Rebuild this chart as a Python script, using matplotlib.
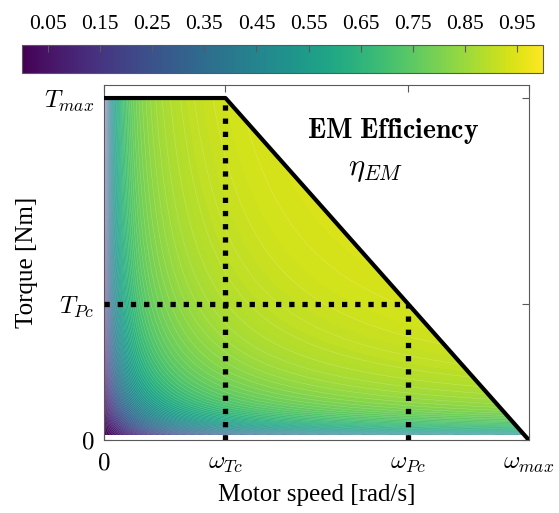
import numpy as np
import matplotlib
matplotlib.use("Agg")
import matplotlib.pyplot as plt

plt.rcParams['font.family'] = ['Liberation Serif', 'DejaVu Serif']
plt.rcParams['mathtext.fontset'] = 'cm'

# normalised operating envelope (omega_max = 1, T_max = 1)
w_tc = 0.286
w_pc = 0.715
w_max = 1.0
t_max = 1.0
t_pc = 0.398
env_w = [0.0, w_tc, w_max]
env_t = [t_max, t_max, 0.0]

# loss model coefficients (estimated from the colours) for the efficiency map
k_torque = 0.0115
k_speed = 0.010
k_const = 0.0082
t_min = 0.015

cbar_ticks = [0.05, 0.15, 0.25, 0.35, 0.45, 0.55, 0.65, 0.75, 0.85, 0.95]
x_ticks = [0, w_tc, w_pc, w_max]
x_labels = ['$0$', r'$\omega_{Tc}$', r'$\omega_{Pc}$', r'$\omega_{max}$']
y_ticks = [0, t_pc, t_max]
y_labels = ['$0$', '$T_{Pc}$', '$T_{max}$']

# efficiency grid
w = np.linspace(0.0, w_max, 500)
t = np.linspace(t_min, t_max, 500)
W, T = np.meshgrid(w, t)
p_out = W * T
loss = k_torque * T + k_speed * W + k_const
eta = p_out / (p_out + loss)
t_env = np.interp(W, env_w, env_t)
eta = np.where(T <= t_env + 1e-9, eta, np.nan)

fig = plt.figure(figsize=(5.59, 5.13), dpi=100)
ax = fig.add_axes([0.186, 0.1423, 0.760, 0.6926])
cax = fig.add_axes([0.0394, 0.857, 0.932, 0.0546])

levels = np.linspace(0, 1, 151)
ax.contourf(W, T, eta, levels=levels, cmap='viridis', vmin=0, vmax=1)
# faint seams between the filled bands
ax.contour(W, T, eta, levels=levels[::2], colors='white', linewidths=0.3, alpha=0.3)

ax.plot(env_w, env_t, color='black', lw=3, solid_capstyle='butt', zorder=5)
dot = dict(color='black', lw=3.8, linestyle=(0, (1, 1.5)), dash_capstyle='butt', zorder=6)
ax.plot([w_tc, w_tc], [0, t_max], **dot)
ax.plot([w_pc, w_pc], [0, t_pc], **dot)
ax.plot([0, w_pc], [t_pc, t_pc], **dot)

ax.text(0.68, 0.903, r'$\mathbf{EM\ Efficiency}$', fontsize=20, ha='center', va='center')
ax.text(0.64, 0.79, r'$\eta_{EM}$', fontsize=22, ha='center', va='center')

ax.set_xlim(0, 1)
ax.set_ylim(0, 1.039)
ax.set_xticks(x_ticks)
ax.set_xticklabels(x_labels, fontsize=18)
ax.set_yticks(y_ticks)
ax.set_yticklabels(y_labels, fontsize=18)
ax.tick_params(direction='in', top=True, right=True, length=5, color='0.35', pad=7)
ax.tick_params(axis='x', pad=9)
for s in ax.spines.values():
    s.set_color('0.35')
ax.set_xlabel('Motor speed [rad/s]', fontsize=18, labelpad=7)
ax.set_ylabel('Torque [Nm]', fontsize=18, labelpad=4)

sm = matplotlib.cm.ScalarMappable(cmap='viridis', norm=matplotlib.colors.Normalize(0, 1))
cb = fig.colorbar(sm, cax=cax, orientation='horizontal', ticks=cbar_ticks)
cax.xaxis.set_ticks_position('top')
cax.xaxis.set_label_position('top')
cax.tick_params(direction='in', length=5, labelsize=15.5, color='0.35', pad=8)
cb.outline.set_edgecolor('0.35')
cax.set_xticklabels([f'{v:.2f}' for v in cbar_ticks])

fig.savefig('out.png', dpi=100)
